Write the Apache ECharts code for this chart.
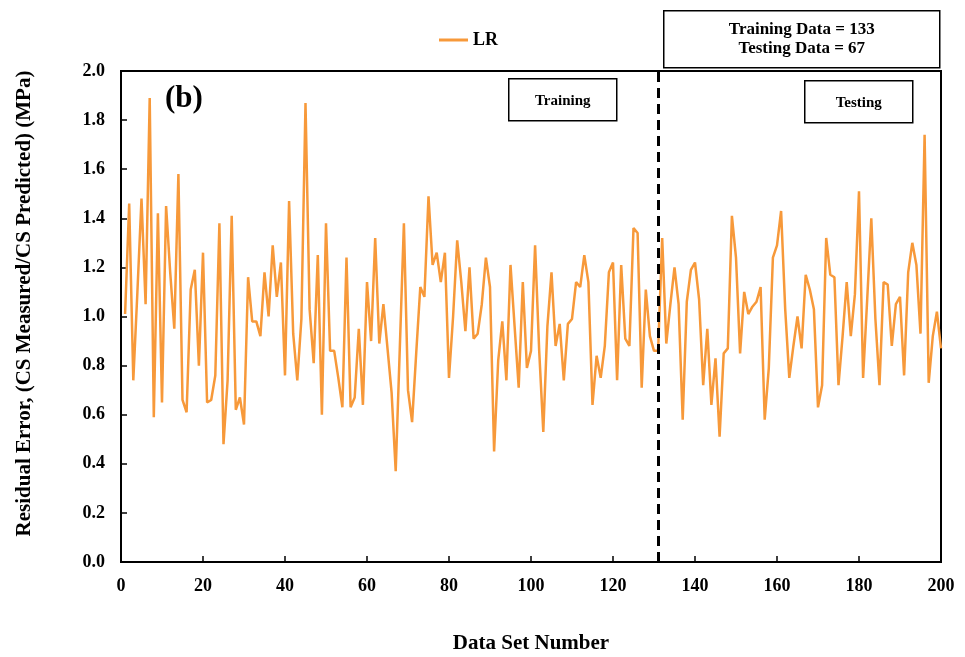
<!DOCTYPE html>
<html>
<head>
<meta charset="utf-8">
<script src="https://cdn.jsdelivr.net/npm/echarts@6/dist/echarts.min.js"></script>
<style>
  html, body { margin: 0; padding: 0; background: #fff; }
  #chart { width: 965px; height: 657px; }
</style>
</head>
<body>
<div id="chart"></div>
<script>
// Residual error (CS measured / CS predicted) for the LR model, data sets 1..200
const dataSetNumbers = Array.from({ length: 200 }, (_, k) => k + 1);
const lrResidual = [
  1.01, 1.46, 0.74, 1.10, 1.48, 1.05, 1.89, 0.59, 1.42, 0.65,
  1.45, 1.18, 0.95, 1.58, 0.66, 0.61, 1.11, 1.19, 0.80, 1.26,
  0.65, 0.66, 0.76, 1.38, 0.48, 0.74, 1.41, 0.62, 0.67, 0.56,
  1.16, 0.98, 0.98, 0.92, 1.18, 1.00, 1.29, 1.08, 1.22, 0.76,
  1.47, 0.93, 0.74, 0.99, 1.87, 1.03, 0.81, 1.25, 0.60, 1.38,
  0.86, 0.86, 0.75, 0.63, 1.24, 0.63, 0.67, 0.95, 0.64, 1.14,
  0.90, 1.32, 0.89, 1.05, 0.87, 0.69, 0.37, 0.87, 1.38, 0.70,
  0.57, 0.85, 1.12, 1.08, 1.49, 1.21, 1.26, 1.14, 1.26, 0.75,
  1.00, 1.31, 1.14, 0.94, 1.20, 0.91, 0.93, 1.05, 1.24, 1.12,
  0.45, 0.82, 0.98, 0.74, 1.21, 0.96, 0.71, 1.14, 0.79, 0.86,
  1.29, 0.86, 0.53, 0.96, 1.18, 0.88, 0.97, 0.74, 0.97, 0.99,
  1.14, 1.12, 1.25, 1.14, 0.64, 0.84, 0.75, 0.88, 1.18, 1.22,
  0.74, 1.21, 0.91, 0.88, 1.36, 1.34, 0.71, 1.11, 0.92, 0.86,
  0.86, 1.32, 0.89, 1.05, 1.20, 1.05, 0.58, 1.06, 1.19, 1.22,
  1.07, 0.72, 0.95, 0.64, 0.83, 0.51, 0.85, 0.87, 1.41, 1.24,
  0.85, 1.10, 1.01, 1.04, 1.06, 1.12, 0.58, 0.79, 1.24, 1.29,
  1.43, 1.03, 0.75, 0.88, 1.00, 0.87, 1.17, 1.11, 1.03, 0.63,
  0.72, 1.32, 1.17, 1.16, 0.72, 0.92, 1.14, 0.92, 1.09, 1.51,
  0.75, 1.07, 1.40, 0.99, 0.72, 1.14, 1.13, 0.88, 1.05, 1.08,
  0.76, 1.18, 1.30, 1.21, 0.93, 1.74, 0.73, 0.92, 1.02, 0.87
];
const splitAt = 131;          // boundary between training and testing sets
const trainingCount = 133;
const testingCount = 67;

const serif = '"Liberation Serif", "Times New Roman", serif';
const lineColor = '#F7993A';

const chart = echarts.init(document.getElementById('chart'), null, { renderer: 'canvas' });

chart.setOption({
  animation: false,
  backgroundColor: '#fff',
  textStyle: { fontFamily: serif },
  grid: {
    left: 121, right: 24, top: 71, bottom: 95,
    outerBoundsMode: 'none',
    show: true, borderColor: '#000', borderWidth: 2, backgroundColor: 'transparent'
  },
  legend: {
    data: ['LR'],
    left: 434, top: 26,
    itemWidth: 29, itemHeight: 3, itemGap: 5,
    icon: 'rect',
    textStyle: { fontFamily: serif, fontWeight: 'bold', fontSize: 18, color: '#000' }
  },
  xAxis: {
    type: 'value', min: 0, max: 200, interval: 20,
    name: 'Data Set Number', nameLocation: 'middle', nameGap: 71,
    nameTextStyle: { fontFamily: serif, fontWeight: 'bold', fontSize: 21, color: '#000' },
    axisLine: { onZero: false, lineStyle: { color: '#000', width: 2 } },
    axisTick: { inside: true, length: 6, lineStyle: { color: '#000', width: 1.5 } },
    axisLabel: { fontFamily: serif, fontWeight: 'bold', fontSize: 18, color: '#000', margin: 15 },
    splitLine: { show: false }
  },
  yAxis: {
    type: 'value', min: 0, max: 2, interval: 0.2,
    name: 'Residual Error, (CS Measured/CS Predicted) (MPa)', nameLocation: 'middle', nameGap: 86,
    nameTextStyle: {
      fontFamily: serif, fontWeight: 'bold', fontSize: 21, color: '#000',
      padding: [0, 0, 0, 26]
    },
    axisLine: { lineStyle: { color: '#000', width: 2 } },
    axisTick: { inside: true, length: 6, lineStyle: { color: '#000', width: 1.5 } },
    axisLabel: {
      fontFamily: serif, fontWeight: 'bold', fontSize: 18, color: '#000', margin: 16,
      formatter: v => v.toFixed(1)
    },
    splitLine: { show: false }
  },
  series: [{
    name: 'LR',
    type: 'line',
    data: dataSetNumbers.map((n, k) => [n, lrResidual[k]]),
    symbol: 'none',
    lineStyle: { color: lineColor, width: 2.5 },
    itemStyle: { color: lineColor },
    markLine: {
      silent: true, symbol: 'none', label: { show: false },
      lineStyle: { color: '#000', width: 3, type: [10, 6] },
      data: [{ xAxis: splitAt }]
    }
  }],
  graphic: [
    {
      type: 'text', left: 165, top: 83,
      style: { text: '(b)', font: 'bold 31px ' + serif, fill: '#000' }
    },
    {
      type: 'group', left: 663, top: 10,
      children: [
        { type: 'rect', shape: { x: 0, y: 0, width: 276, height: 57 },
          style: { fill: '#fff', stroke: '#000', lineWidth: 1.5 } },
        { type: 'text', x: 138, y: 19,
          style: { text: 'Training Data = ' + trainingCount, font: 'bold 17px ' + serif,
                   fill: '#000', align: 'center', verticalAlign: 'middle' } },
        { type: 'text', x: 138, y: 38,
          style: { text: 'Testing Data = ' + testingCount, font: 'bold 17px ' + serif,
                   fill: '#000', align: 'center', verticalAlign: 'middle' } }
      ]
    },
    {
      type: 'group', left: 508, top: 78,
      children: [
        { type: 'rect', shape: { x: 0, y: 0, width: 108, height: 42 },
          style: { fill: '#fff', stroke: '#000', lineWidth: 1.5 } },
        { type: 'text', x: 54, y: 22,
          style: { text: 'Training', font: 'bold 15px ' + serif,
                   fill: '#000', align: 'center', verticalAlign: 'middle' } }
      ]
    },
    {
      type: 'group', left: 804, top: 80,
      children: [
        { type: 'rect', shape: { x: 0, y: 0, width: 108, height: 42 },
          style: { fill: '#fff', stroke: '#000', lineWidth: 1.5 } },
        { type: 'text', x: 54, y: 22,
          style: { text: 'Testing', font: 'bold 15px ' + serif,
                   fill: '#000', align: 'center', verticalAlign: 'middle' } }
      ]
    }
  ]
});
</script>
</body>
</html>
